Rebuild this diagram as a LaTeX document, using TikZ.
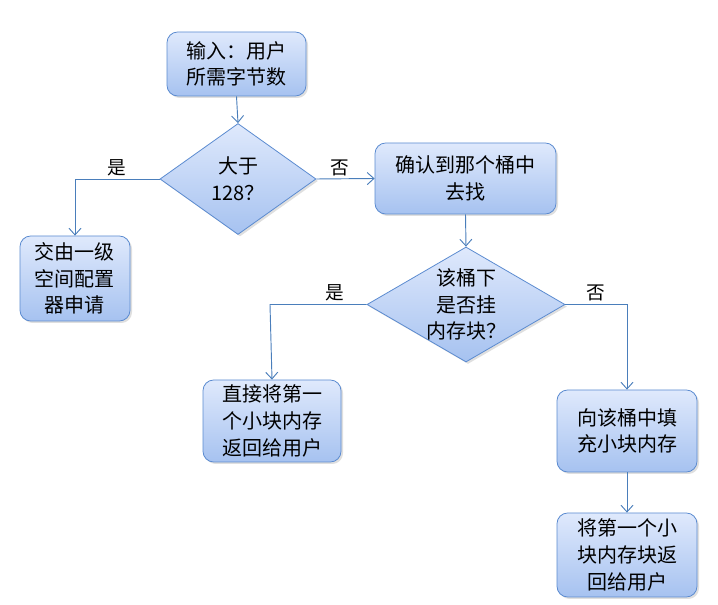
\documentclass[tikz,border=0pt]{standalone}
\usepackage{fontspec}
\setmainfont{Noto Sans CJK SC}
\usetikzlibrary{shapes.geometric,arrows.meta,shadows}
\definecolor{bordc}{HTML}{5B8BD0}
\definecolor{linec}{HTML}{4A7EBB}
\definecolor{topc}{HTML}{DFE9FC}
\definecolor{botc}{HTML}{A6C2F0}
\tikzset{
  base/.style={draw=bordc, line width=0.6pt, top color=topc, bottom color=botc,
    align=center, font=\fontsize{15}{20}\selectfont,
    drop shadow={shadow xshift=1.5pt, shadow yshift=-1.5pt, opacity=0.25}},
  proc/.style={base, rounded corners=8pt, inner sep=0pt},
  decis/.style={base, shape=diamond, inner sep=-8pt},
  conn/.style={draw=linec, line width=0.7pt, -{Straight Barb[length=5pt,width=9pt]}},
  lbl/.style={font=\fontsize{14}{16}\selectfont, inner sep=1pt}
}
\begin{document}
\begin{tikzpicture}[x=0.75pt,y=-0.75pt]
\useasboundingbox (0,0) rectangle (718,605);
\node[proc, minimum width=104.25pt, minimum height=48pt] (b1) at (236.5,64) {输入：用户\\所需字节数};
\node[decis, minimum width=117pt, minimum height=83.25pt] (d1) at (238,179) {大于\\128？};
\node[proc, minimum width=135.75pt, minimum height=53.25pt] (b2) at (465.5,178.5) {确认到那个桶中\\去找};
\node[proc, minimum width=82.5pt, minimum height=63.75pt] (b3) at (75,278.5) {交由一级\\空间配置\\器申请};
\node[decis, minimum width=148.5pt, minimum height=86.25pt] (d2) at (466,304.5) {该桶下\\是否挂\\内存块？};
\node[proc, minimum width=103.5pt, minimum height=61.5pt] (b4) at (272,421) {直接将第一\\个小块内存\\返回给用户};
\node[proc, minimum width=105pt, minimum height=61.5pt] (b5) at (627,431) {向该桶中填\\充小块内存};
\node[proc, minimum width=105pt, minimum height=63pt] (b6) at (627,555) {将第一个小\\块内存块返\\回给用户};
\coordinate (c1) at (75,179);
\coordinate (c2) at (270,304.5);
\coordinate (c3) at (627,304.5);
\draw[conn] (b1.south) -- (d1.north);
\draw[conn] (d1.east) -- (b2.west) node[lbl, pos=0.4, above=1pt] (l1) {否};
\draw[conn] (d1.west) -- (c1) node[lbl, pos=0.5, above=1pt] (l2) {是} -- (b3.north);
\draw[conn] (b2.south) -- (d2.north);
\draw[conn] (d2.west) -- (c2) node[lbl, pos=0.33, above=1pt] (l3) {是} -- (b4.north);
\draw[conn] (d2.east) -- (c3) node[lbl, pos=0.5, above=1pt] (l4) {否} -- (b5.north);
\draw[conn] (b5.south) -- (b6.north);
\end{tikzpicture}
\end{document}
